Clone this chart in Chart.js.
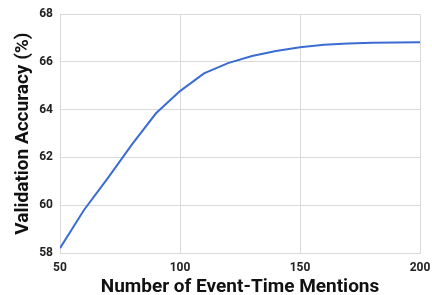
<!DOCTYPE html>
<html>
<head>
    <title>Validation Accuracy vs Mentions</title>
    <script src="https://cdn.jsdelivr.net/npm/chart.js"></script>
    <style>
        html, body { margin: 0; padding: 0; background: #fff; }
        #wrap { width: 432px; height: 295px; }
    </style>
</head>
<body>
    <div id="wrap"><canvas id="accChart" width="432" height="295"></canvas></div>

    <script>
        // Values
        const mentions = [50, 60, 70, 80, 90, 100, 110, 120, 130, 140, 150, 160, 170, 180, 190, 200];
        const accuracy = [58.2, 59.8, 61.15, 62.55, 63.85, 64.78, 65.52, 65.95, 66.25, 66.46, 66.62, 66.72, 66.77, 66.8, 66.82, 66.83];
        const xTicks = [50, 100, 150, 200];
        const yTicks = [58, 60, 62, 64, 66, 68];

        const gridColor = '#d9d9d9';
        const tickFont = { family: 'Roboto', size: 12, weight: 'bold' };
        const titleFont = { family: 'Roboto', size: 19, weight: 'bold', lineHeight: 0.8 };

        new Chart(document.getElementById('accChart').getContext('2d'), {
            type: 'line',
            data: {
                datasets: [{
                    label: 'Validation Accuracy (%)',
                    data: mentions.map((m, i) => ({ x: m, y: accuracy[i] })),
                    borderColor: '#3b6cd0',
                    borderWidth: 2,
                    pointRadius: 0,
                    tension: 0,
                    fill: false
                }]
            },
            options: {
                responsive: false,
                animation: false,
                layout: { padding: { left: 12, right: 12, top: 12, bottom: 0 } },
                plugins: { legend: { display: false }, tooltip: { enabled: false } },
                scales: {
                    x: {
                        type: 'linear',
                        min: xTicks[0],
                        max: xTicks[xTicks.length - 1],
                        afterBuildTicks: axis => { axis.ticks = xTicks.map(v => ({ value: v })); },
                        afterFit: axis => { axis.height = 42; axis.paddingRight = 0; axis.paddingLeft = 0; },
                        grid: { color: gridColor, drawTicks: false },
                        border: { color: gridColor },
                        ticks: { color: '#222', font: tickFont, padding: 8, maxRotation: 0 },
                        title: { display: true, text: 'Number of Event-Time Mentions', color: '#111', font: titleFont, padding: { top: 0, bottom: 0 } }
                    },
                    y: {
                        min: yTicks[0],
                        max: yTicks[yTicks.length - 1],
                        afterBuildTicks: axis => { axis.ticks = yTicks.map(v => ({ value: v })); },
                        afterFit: axis => { axis.width = 48; },
                        grid: { color: gridColor, drawTicks: false },
                        border: { color: gridColor },
                        ticks: { color: '#222', font: tickFont, padding: 7 },
                        title: { display: true, text: 'Validation Accuracy (%)', color: '#111', font: titleFont, padding: { top: 4, bottom: 2 } }
                    }
                }
            }
        });
    </script>
</body>
</html>
